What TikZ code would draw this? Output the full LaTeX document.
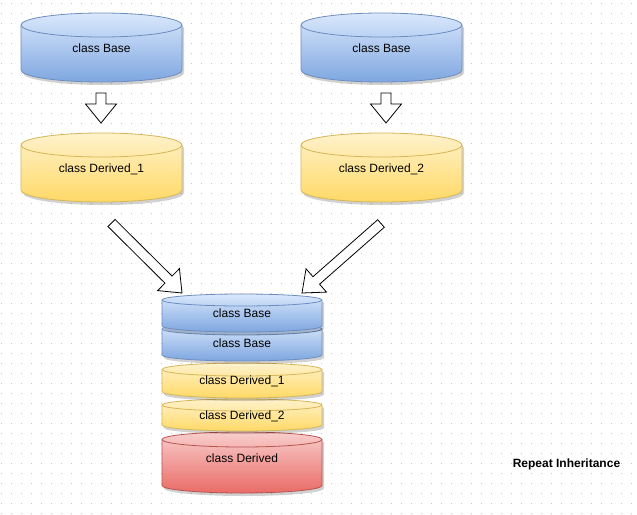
\documentclass[tikz,border=0pt]{standalone}
\usepackage{fontspec}
\setmainfont{Liberation Sans}
\usetikzlibrary{calc}

\definecolor{bluetop}{HTML}{DAE8FC}
\definecolor{bluebot}{HTML}{7EA6E0}
\definecolor{blueline}{HTML}{6C8EBF}
\definecolor{yellowtop}{HTML}{FFF2CC}
\definecolor{yellowbot}{HTML}{FFD966}
\definecolor{yellowline}{HTML}{D6B656}
\definecolor{redtop}{HTML}{F8CECC}
\definecolor{redbot}{HTML}{EA6B66}
\definecolor{redline}{HTML}{B85450}

\tikzset{
	cylfill/.style={draw=#1line, top color=#1top, bottom color=#1bot, line width=0.8pt},
	cylshadow/.style={fill=black, opacity=0.18, xshift=2pt, yshift=-3pt},
	blockarrow/.style={draw=black, fill=white, line width=0.8pt, line join=miter},
	griddot/.style={fill=black!22},
	dbtext/.style={font=\fontsize{12}{14}\selectfont, text height=8.6pt, text depth=0pt, inner sep=0pt},
	titletext/.style={dbtext, font=\fontsize{12}{14}\selectfont\bfseries},
}

% cylinder outline: options, centre x, top, half width, height, radius of the ends
\newcommand{\cylbody}[6]{%
	\path[#1] (#2-#4,#3+#6) -- (#2-#4,#3+#5-#6)
		arc[start angle=180, end angle=360, x radius=#4pt, y radius=#6pt]
		-- (#2+#4,#3+#6)
		arc[start angle=0, end angle=180, x radius=#4pt, y radius=#6pt] -- cycle;}
\newcommand{\dbcyl}[6]{%
	\cylbody{cylshadow}{#2}{#3}{#4}{#5}{#6}
	\cylbody{cylfill=#1}{#2}{#3}{#4}{#5}{#6}
	\draw[#1line, line width=0.8pt] (#2-#4,#3+#6)
		arc[start angle=180, end angle=360, x radius=#4pt, y radius=#6pt];}
% hollow block arrow from #1 to #2
\newcommand{\blockarrow}[2]{%
	\coordinate (headbase) at ($(#2)!19pt!(#1)$);
	\draw[blockarrow] ($(#1)!5pt!90:(#2)$) -- ($(headbase)!5pt!90:(#2)$)
		-- ($(headbase)!15.5pt!90:(#2)$) -- (#2)
		-- ($(headbase)!15.5pt!-90:(#2)$) -- ($(headbase)!5pt!-90:(#2)$)
		-- ($(#1)!5pt!-90:(#2)$) -- cycle;}

\begin{document}
\begin{tikzpicture}[x=1pt, y=-1pt]
	\useasboundingbox (0,0) rectangle (637,514);
	\fill[white] (0,0) rectangle (637,514);
	\foreach \i in {0,...,63}
		\foreach \j in {0,...,51}
			\fill[griddot] (10*\i+1,10*\j+3) rectangle +(1,1);
	
	% single inheritance
	\dbcyl{blue}{101.5}{13}{80.5}{69}{12}
	\dbcyl{blue}{381.5}{13}{80.5}{69}{12}
	\dbcyl{yellow}{101.5}{133}{80.5}{69}{12}
	\dbcyl{yellow}{381.5}{133}{80.5}{69}{12}
	
	% the stack of the derived class
	\dbcyl{red}{242}{432}{80}{61}{7.5}
	\dbcyl{yellow}{242}{399}{80}{32}{6}
	\dbcyl{yellow}{242}{363}{80}{35}{6.5}
	\dbcyl{blue}{242}{323}{80}{38}{6}
	\dbcyl{blue}{242}{294}{80}{38}{6}
	
	\path[dbtext]
	(101.5,48) node(baseA){class Base} (381.5,48) node(baseB){class Base}
	(101.5,168) node(derA){class Derived\_1} (381.5,168) node(derB){class Derived\_2}
	(242,313) node(stackbaseA){class Base} (242,343) node(stackbaseB){class Base}
	(242,380) node(stackderA){class Derived\_1} (242,415) node(stackderB){class Derived\_2}
	(242,458) node(derived){class Derived};
	\node[titletext] (title) at (566.5,463) {Repeat Inheritance};
	
	\coordinate (arrAs) at (101,93);
	\coordinate (arrAe) at (101,123);
	\coordinate (arrBs) at (386,93);
	\coordinate (arrBe) at (386,123);
	\coordinate (arrCs) at (111.5,223);
	\coordinate (arrCe) at (182,293);
	\coordinate (arrDs) at (381,223.5);
	\coordinate (arrDe) at (302,293);
	\blockarrow{arrAs}{arrAe}
	\blockarrow{arrBs}{arrBe}
	\blockarrow{arrCs}{arrCe}
	\blockarrow{arrDs}{arrDe}
	
\end{tikzpicture}
\end{document}
